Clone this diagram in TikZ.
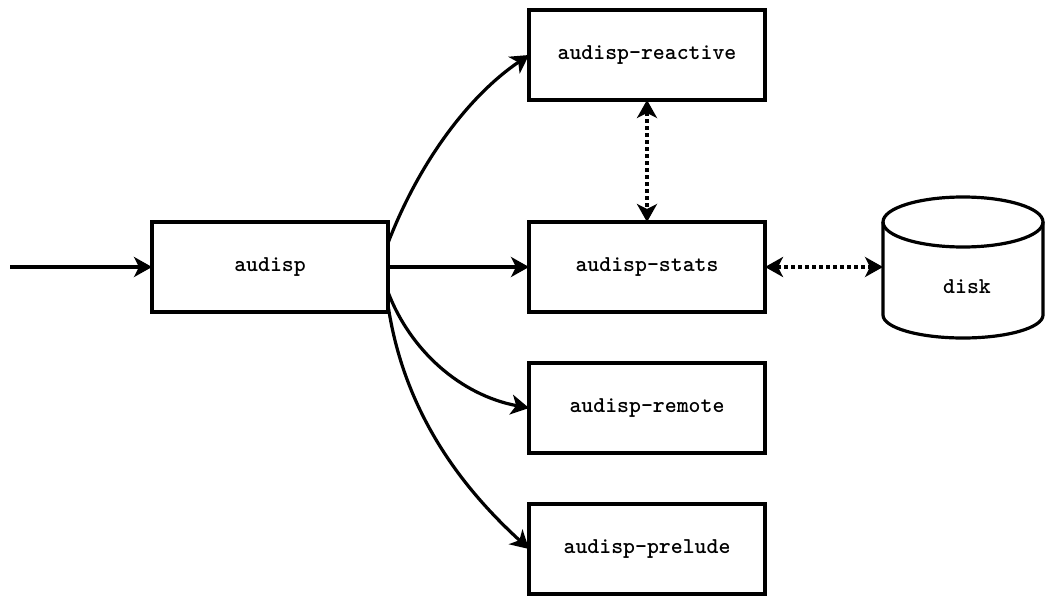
\documentclass[tikz,border=0pt]{standalone}
\usepackage{fontspec}
\usetikzlibrary{arrows.meta}
\begin{document}
\begin{tikzpicture}[x=1pt,y=1pt,
  lbl/.style={font=\fontsize{22.7pt}{26pt}\selectfont\ttfamily\bfseries},
  box/.style={draw, line width=3.2pt, minimum width=236pt, minimum height=90pt, inner sep=0pt, outer sep=0pt, lbl},
  conn/.style={line width=3.2pt, -{Stealth[length=18pt,width=20pt,inset=5pt]}},
  dotconn/.style={line width=3.2pt, dash pattern=on 3.5pt off 3.5pt, {Stealth[length=18pt,width=20pt,inset=5pt]}-{Stealth[length=18pt,width=20pt,inset=5pt]}}
]
\useasboundingbox (0,0) rectangle (1046,-596);
\node[box] (audisp) at (270,-267) {audisp};
\node[box] (reactive) at (647,-55) {audisp-reactive};
\node[box] (stats) at (647,-267) {audisp-stats};
\node[box] (remote) at (647,-408) {audisp-remote};
\node[box] (prelude) at (647,-549) {audisp-prelude};
\coordinate (in) at (10,-267);
% disk cylinder
\node[minimum width=160pt, minimum height=141pt, inner sep=0pt, outer sep=0pt] (disk) at (963,-267) {};
\draw[line width=3.2pt] (883,-222) -- (883,-315) arc[start angle=180,end angle=360,x radius=80,y radius=23] -- (1043,-222);
\draw[line width=3.2pt] (963,-222) ellipse[x radius=80, y radius=25];
\node[lbl] (disklabel) at (967,-287) {disk};
\coordinate (diskin) at (883,-267);
% connectors
\draw[conn] (in) -- (audisp.west);
\draw[conn] (audisp.east) -- (stats.west);
\draw[conn] ([yshift=24pt]audisp.east) .. controls (420,-160) and (470,-95) .. (reactive.west);
\draw[conn] ([yshift=-25pt]audisp.east) .. controls (410,-350) and (460,-395) .. (remote.west);
\draw[conn] ([yshift=-38pt]audisp.east) .. controls (405,-420) and (470,-495) .. (prelude.west);
\draw[dotconn] (reactive.south) -- (stats.north);
\draw[dotconn] (stats.east) -- (diskin);
\end{tikzpicture}
\end{document}
